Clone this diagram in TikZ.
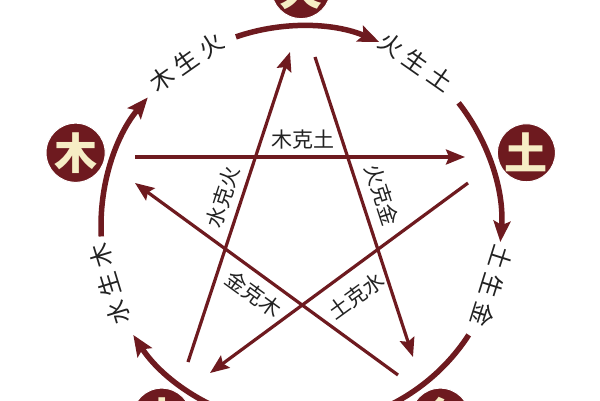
\documentclass[tikz,border=0pt]{standalone}
\usepackage{fontspec}
\setmainfont{Noto Sans CJK SC}
\usetikzlibrary{arrows.meta,calc}
\definecolor{maroon}{HTML}{6E1A1F}
\definecolor{cream}{HTML}{F6EDC5}
\definecolor{ink}{HTML}{222222}
\begin{document}
\begin{tikzpicture}[x=1pt,y=1pt,
  ring/.style={draw=maroon, line width=5.5pt},
  ringarrow/.style={ring, -{Stealth[length=21pt,width=17pt,inset=4pt]}},
  starline/.style={draw=maroon, line width=3.2pt, -{Stealth[length=19pt,width=15pt,inset=3pt]}},
  elem/.style={circle, fill=maroon, draw=white, line width=1pt, minimum size=58pt, inner sep=0pt, text=cream, font=\fontsize{43}{43}\selectfont\bfseries},
  ringlabel/.style={text=ink, font=\fontsize{24}{24}\selectfont, inner sep=0pt},
  starlabel/.style={text=ink, font=\fontsize{21}{21}\selectfont, inner sep=0pt},
]
\useasboundingbox (0,0) rectangle (600,400);
\clip (0,0) rectangle (600,400);
\fill[white] (0,0) rectangle (600,400);
\coordinate (C) at (301,174);

% ring arcs
\draw[ringarrow] ($(C)+(183:200)$) arc[start angle=183,end angle=140,radius=200];
\draw[ringarrow] ($(C)+(109:200)$) arc[start angle=109,end angle=67,radius=200];
\draw[ringarrow] ($(C)+(38:200)$) arc[start angle=38,end angle=-4.6,radius=200];
\draw[ring] ($(C)+(-33:200)$) arc[start angle=-33,end angle=-75,radius=200];
\draw[ringarrow] ($(C)+(-105:200)$) arc[start angle=-105,end angle=-147,radius=200];

% ring labels
\node[ringlabel, rotate=35] (mshh) at ($(C)+(125:200)$) {木\hspace{6pt}生\hspace{6pt}火};
\node[ringlabel, rotate=-35] (hsht) at ($(C)+(55:200)$) {火\hspace{6pt}生\hspace{6pt}土};
\node[ringlabel, rotate=-107.5] (tshj) at ($(C)+(-17.5:200)$) {土\hspace{6pt}生\hspace{6pt}金};
\node[ringlabel, rotate=107] (sshm) at ($(C)+(197:200)$) {水\hspace{6pt}生\hspace{6pt}木};

% star endpoints
\coordinate (s1) at (135,243); \coordinate (e1) at (465,243);
\coordinate (s2) at (315,343); \coordinate (e2) at (413,43);
\coordinate (s3) at (468,217); \coordinate (e3) at (210,27);
\coordinate (s4) at (188,38);  \coordinate (e4) at (290,348);
\coordinate (s5) at (398,25);  \coordinate (e5) at (135,217);

\draw[starline] (s1) -- (e1);
\draw[starline] (s2) -- (e2);
\draw[starline] (s3) -- (e3);
\draw[starline] (s4) -- (e4);
\draw[starline] (s5) -- (e5);

% star labels
\node[starlabel] (mkt) at (303,260) {木克土};
\node[starlabel, rotate=-72] (hkj) at (382,205) {火克金};
\node[starlabel, rotate=72] (skh) at (223,203) {水克火};
\node[starlabel, rotate=-36] (jkm) at (254,106) {金克木};
\node[starlabel, rotate=36] (tks) at (356,104) {土克水};

% element circles
\node[elem] (huo) at ($(C)+(90:237)$) {火};
\node[elem] (tu) at ($(C)+(18:237)$) {土};
\node[elem] (jin) at ($(C)+(-54:237)$) {金};
\node[elem] (shui) at ($(C)+(-126:237)$) {水};
\node[elem] (mu) at ($(C)+(162:237)$) {木};
\end{tikzpicture}
\end{document}
